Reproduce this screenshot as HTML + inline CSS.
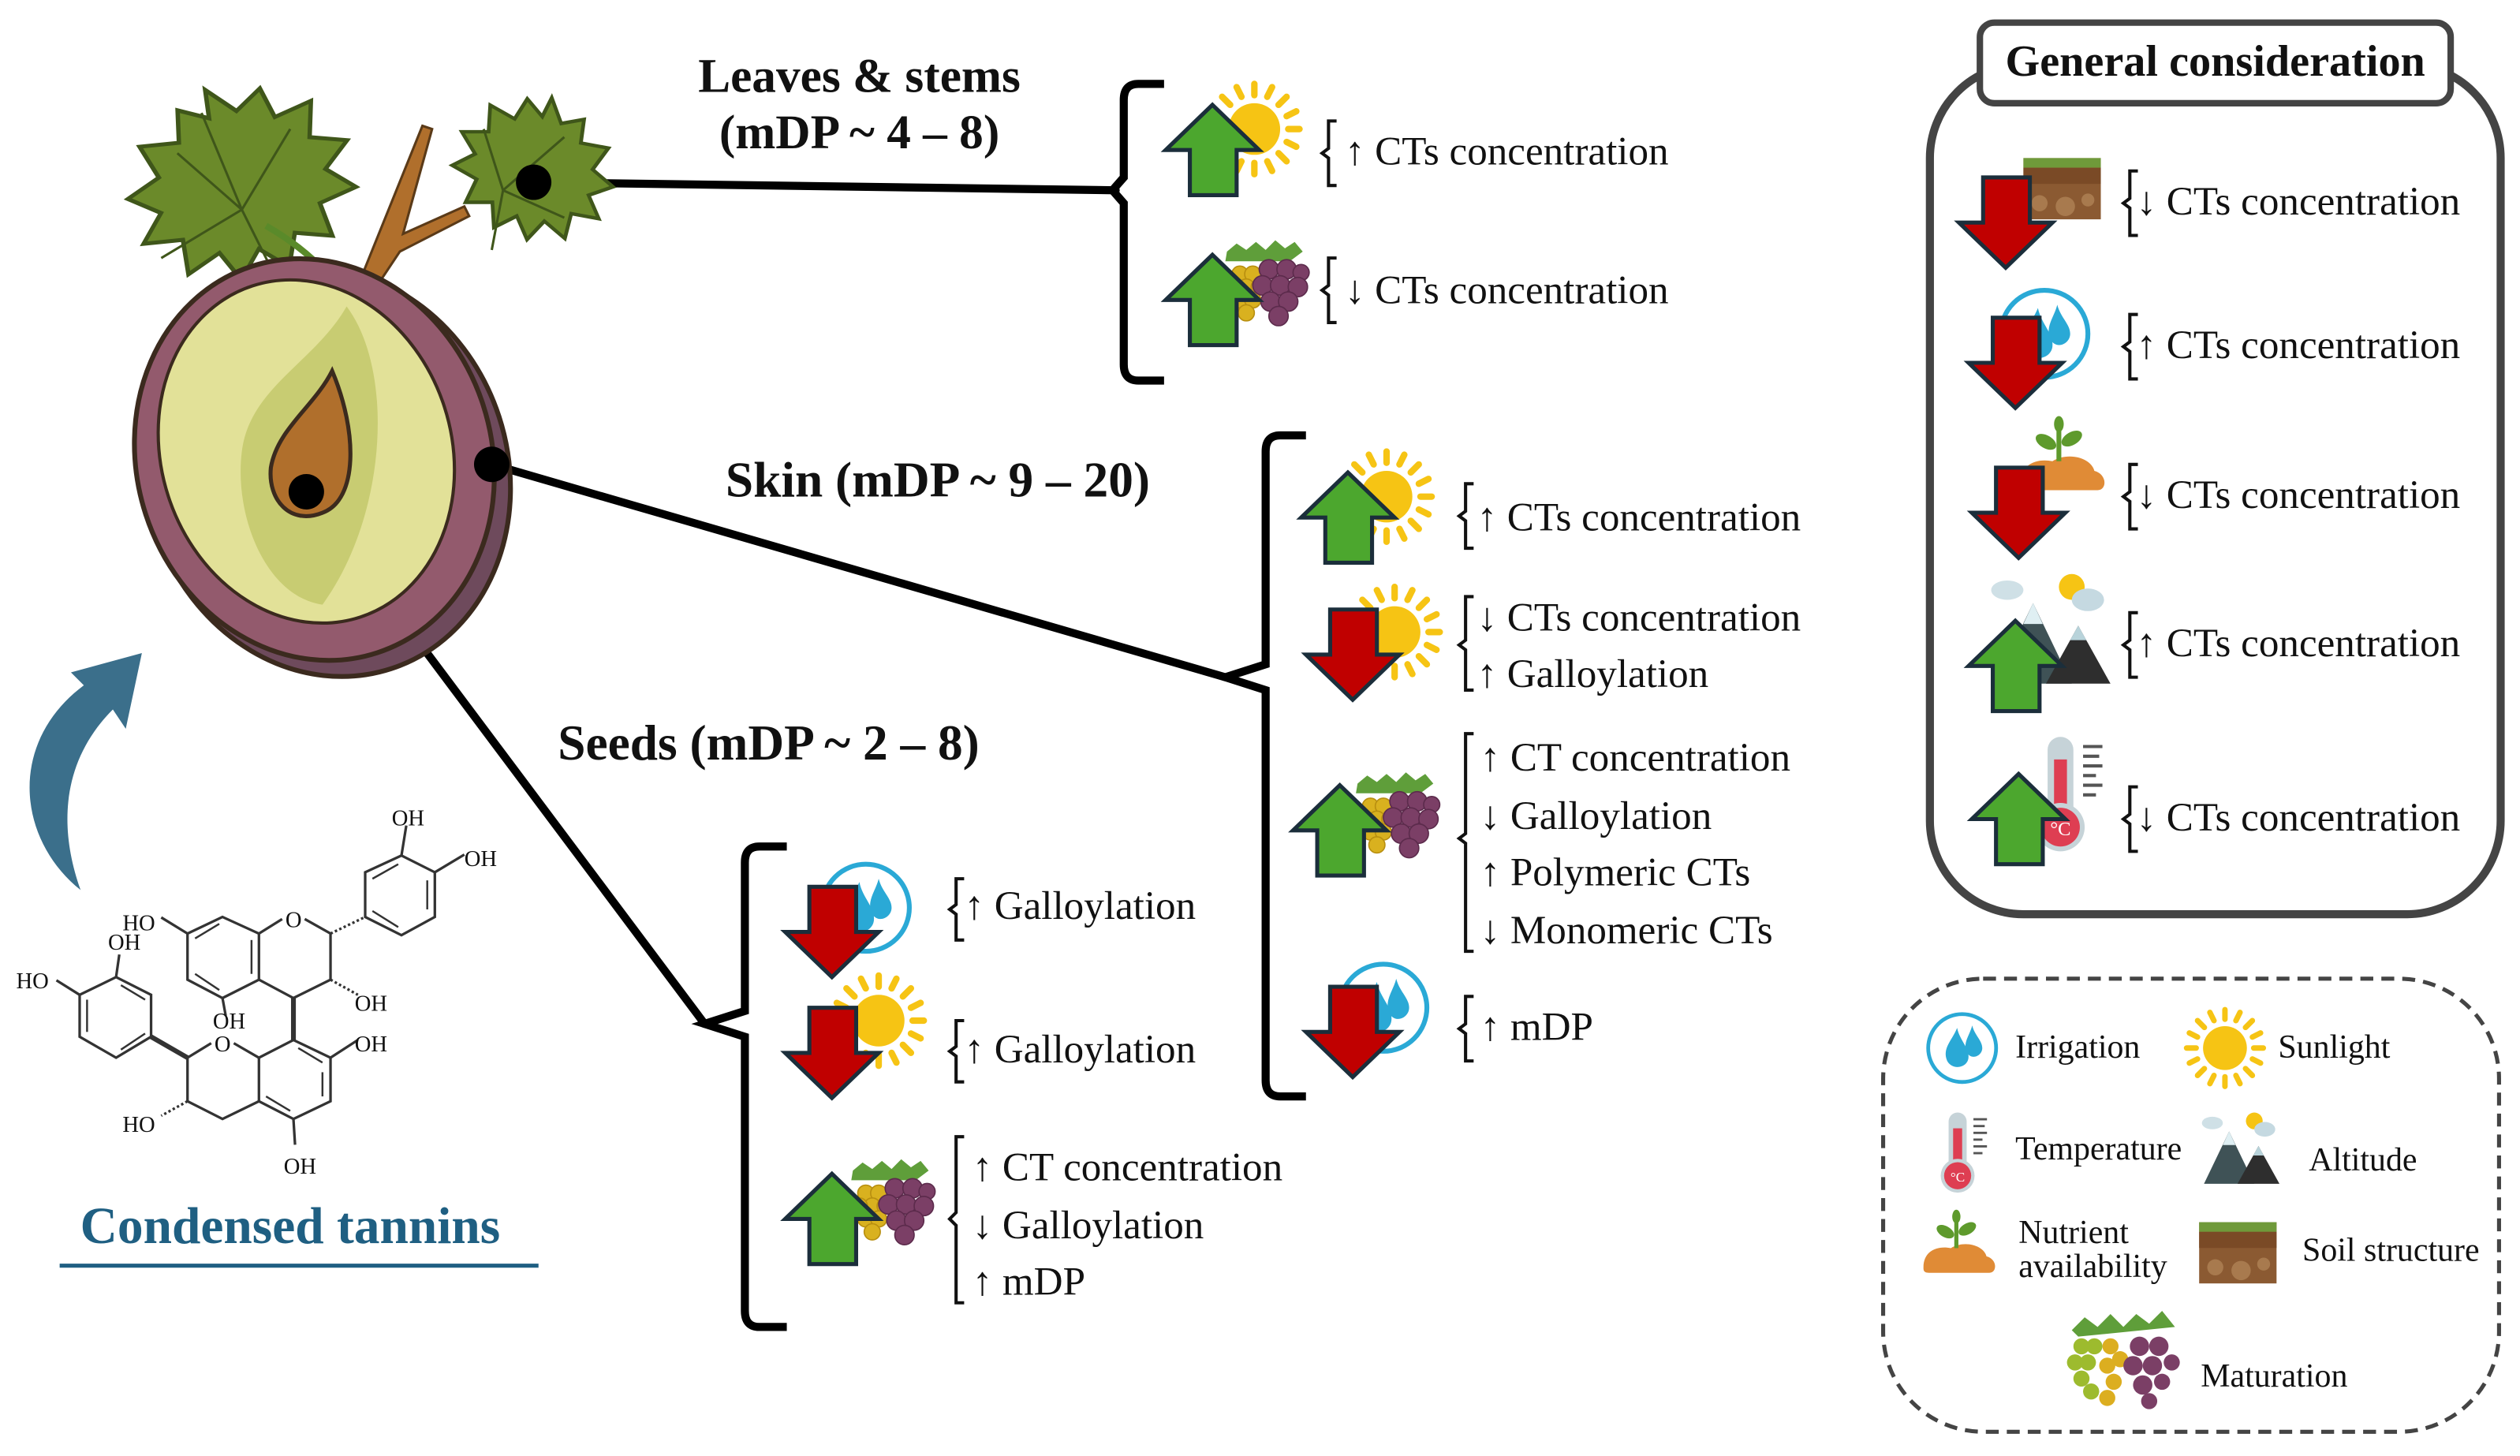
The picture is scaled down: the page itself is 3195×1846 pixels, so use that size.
<!DOCTYPE html>
<html><head><meta charset="utf-8"><style>
html,body{margin:0;padding:0;background:#fff}
svg{display:block}
text{font-family:"Liberation Serif",serif;fill:#111}
.b{font-weight:bold}
.t{font-size:25px}
.l{font-size:20.5px}
</style></head><body>
<svg width="3195" height="1846" viewBox="0 0 1563 903" xmlns="http://www.w3.org/2000/svg">
<defs>
<g id="up"><polygon points="28,0 57,28 43,28 43,56 14,56 14,28 -1,28" fill="#4ca72e" stroke="#1b2e3b" stroke-width="2.5" stroke-linejoin="miter"/></g>
<g id="dn"><polygon points="14,0 43,0 43,28 57,28 28,56 -1,28 14,28" fill="#c00000" stroke="#1b2e3b" stroke-width="2.5"/></g>
<g id="sun"><circle r="16" fill="#f6c414"/>
<g stroke="#f6c414" stroke-width="4" stroke-linecap="round">
<line x1="0" y1="-21" x2="0" y2="-28"/><line x1="0" y1="21" x2="0" y2="28"/><line x1="21" y1="0" x2="28" y2="0"/><line x1="-21" y1="0" x2="-28" y2="0"/>
<line x1="15" y1="-15" x2="20" y2="-20"/><line x1="-15" y1="-15" x2="-20" y2="-20"/><line x1="15" y1="15" x2="20" y2="20"/><line x1="-15" y1="15" x2="-20" y2="20"/>
<line x1="8" y1="-20" x2="11" y2="-26"/><line x1="-8" y1="-20" x2="-11" y2="-26"/><line x1="8" y1="20" x2="11" y2="26"/><line x1="-8" y1="20" x2="-11" y2="26"/>
<line x1="20" y1="-8" x2="26" y2="-11"/><line x1="20" y1="8" x2="26" y2="11"/><line x1="-20" y1="-8" x2="-26" y2="-11"/><line x1="-20" y1="8" x2="-26" y2="11"/></g></g>
<g id="grapes">
<path d="M4,6 l6,-5 6,4 6,-5 6,5 6,-6 6,5 6,-4 5,6 -8,6 -40,0z" fill="#5f9e3a"/>
<g fill="#d9b11f" stroke="#b88f10" stroke-width="0.8"><circle cx="12" cy="20" r="5"/><circle cx="20" cy="20" r="5"/><circle cx="16" cy="28" r="5"/><circle cx="8" cy="28" r="5"/><circle cx="24" cy="28" r="5"/><circle cx="12" cy="36" r="5"/><circle cx="20" cy="36" r="5"/><circle cx="16" cy="44" r="5"/></g>
<g fill="#7b3f66" stroke="#5c2b4c" stroke-width="0.8"><circle cx="30" cy="17" r="6"/><circle cx="41" cy="17" r="6"/><circle cx="50" cy="19" r="5"/><circle cx="26" cy="27" r="6"/><circle cx="37" cy="27" r="6"/><circle cx="48" cy="28" r="6"/><circle cx="31" cy="37" r="6"/><circle cx="42" cy="37" r="6"/><circle cx="36" cy="46" r="6"/></g>
</g>
<g id="irr"><circle r="27" fill="#fff" stroke="#2aa9d6" stroke-width="3"/>
<path d="M-4,-16 C-8,-6 -16,0 -12,10 C-8,18 4,16 5,8 C6,0 -2,-6 -4,-16z" fill="#2aa9d6"/>
<path d="M8,-18 C6,-10 0,-4 4,4 C8,10 16,6 16,0 C16,-6 10,-10 8,-18z" fill="#2aa9d6"/></g>
<g id="soil"><rect x="0" y="8" width="48" height="38" fill="#8b5a32"/><rect x="0" y="8" width="48" height="6" fill="#6f9a3a"/><rect x="0" y="14" width="48" height="10" fill="#7a4a26"/><circle cx="10" cy="36" r="5" fill="#a87a4e"/><circle cx="26" cy="38" r="6" fill="#a87a4e"/><circle cx="40" cy="34" r="4" fill="#a87a4e"/></g>
<g id="nut"><path d="M0,40 C0,28 10,24 20,26 C30,20 44,24 46,32 C54,34 54,44 48,44 L4,44 C0,44 0,42 0,40z" fill="#e08b36"/>
<line x1="24" y1="26" x2="24" y2="4" stroke="#5e9a2c" stroke-width="3"/><ellipse cx="16" cy="14" rx="7" ry="4" fill="#5e9a2c" transform="rotate(30 16 14)"/><ellipse cx="32" cy="12" rx="7" ry="4" fill="#5e9a2c" transform="rotate(-30 32 12)"/><ellipse cx="24" cy="3" rx="3" ry="5" fill="#5e9a2c"/></g>
<g id="alt"><ellipse cx="8" cy="10" rx="10" ry="6" fill="#cfe0e6"/><circle cx="48" cy="8" r="8" fill="#f6c414"/><ellipse cx="58" cy="16" rx="10" ry="7" fill="#c5d9e1"/>
<polygon points="0,68 24,18 48,68" fill="#3f5256"/><polygon points="32,68 52,32 72,68" fill="#2e2e2e"/><polygon points="24,18 18,31 30,31" fill="#dfeff3"/><polygon points="52,32 47,41 57,41" fill="#b8d3da"/></g>
<g id="therm"><rect x="8" y="0" width="16" height="52" rx="8" fill="#c6d3d8"/><rect x="12" y="14" width="8" height="38" fill="#de3e52"/><circle cx="16" cy="56" r="15" fill="#c6d3d8"/><circle cx="16" cy="56" r="12" fill="#de3e52"/><text x="16" y="61" font-size="12" text-anchor="middle" style="fill:#fff">°C</text>
<g stroke="#555" stroke-width="2"><line x1="30" y1="6" x2="42" y2="6"/><line x1="30" y1="12" x2="40" y2="12"/><line x1="30" y1="18" x2="42" y2="18"/><line x1="30" y1="24" x2="38" y2="24"/><line x1="30" y1="30" x2="42" y2="30"/><line x1="30" y1="36" x2="38" y2="36"/></g></g>
<path id="leafshape" d="M0,-70 l14,18 16,-10 4,20 22,-4 -6,22 20,8 -16,14 14,16 -22,4 2,22 -20,-8 -8,20 -14,-16 -14,16 -8,-20 -20,8 2,-22 -22,-4 14,-16 -16,-14 20,-8 -6,-22 22,4 4,-20 16,10z"/>
</defs>

<!-- connector lines -->
<g stroke="#000" stroke-width="5" fill="none" stroke-linecap="round">
<line x1="331" y1="113" x2="692" y2="118"/>
<line x1="305" y1="288" x2="760" y2="420"/>
<line x1="190" y1="305" x2="437" y2="635"/>
<path d="M722,52 H706 Q697,52 697,62 V110 L690,118 L697,126 V226 Q697,236 706,236 H722" stroke-linecap="butt"/>
<path d="M810,270 H794 Q785,270 785,280 V412 L760,420 L785,428 V670 Q785,680 794,680 H810" stroke-linecap="butt"/>
<path d="M488,525 H471 Q462,525 462,535 V627 L437,635 L462,643 V813 Q462,823 471,823 H488" stroke-linecap="butt"/>
</g>

<!-- grape fruit -->
<g>
<use href="#leafshape" transform="translate(145,122) rotate(-15) scale(1.1 0.98)" fill="#6b8a2a" stroke="#3f561a" stroke-width="2.5"/>
<use href="#leafshape" transform="translate(325,108) rotate(20) scale(0.78 0.72)" fill="#6b8a2a" stroke="#3f561a" stroke-width="3"/>
<g stroke="#3f561a" stroke-width="1.5" fill="none"><path d="M150,130 L110,95 M150,130 L125,70 M150,130 L180,80 M150,130 L100,160 M150,130 L175,180"/><path d="M312,118 L300,80 M312,118 L350,85 M312,118 L350,135 M312,118 L305,155"/></g>
<path d="M165,140 Q200,160 218,190" stroke="#5a8a2a" stroke-width="4" fill="none"/>
<path d="M262,78 L268,80 L250,145 L288,128 L291,134 L248,156 L222,195 L216,192 Z" fill="#b06f2c" stroke="#5a3a18" stroke-width="1.5"/>
<ellipse cx="203" cy="293" rx="112" ry="128" transform="rotate(-18 203 293)" fill="#6e4a5c" stroke="#3b2a1e" stroke-width="3"/>
<ellipse cx="195" cy="285" rx="110" ry="126" transform="rotate(-18 195 285)" fill="#935a6d" stroke="#3b2a1e" stroke-width="3"/>
<ellipse cx="190" cy="280" rx="90" ry="108" transform="rotate(-18 190 280)" fill="#e2e198" stroke="#3b2a1e" stroke-width="2"/>
<path d="M215,190 C245,230 240,320 200,375 C165,370 145,320 150,280 C155,240 195,225 215,190z" fill="#c8cc72"/>
<path d="M206,230 C222,268 222,310 200,318 C180,326 166,310 168,290 C172,266 195,252 206,230z" fill="#b06f2c" stroke="#3b2a1e" stroke-width="2.5"/>
</g>
<circle cx="331" cy="113" r="11" fill="#000"/>
<circle cx="305" cy="288" r="11" fill="#000"/>
<circle cx="190" cy="305" r="11" fill="#000"/>

<!-- blue arrow -->
<path d="M50,552 C10,520 5,460 52,425 L44,417 L88,405 L78,452 L70,440 C40,470 35,510 50,552z" fill="#3b6f8b"/>

<!-- chemical structure -->
<g stroke="#333" stroke-width="1.6" fill="none">
<polygon points="249,530.6 269.7,541 269.7,568.7 249,580 226.5,568.7 226.5,541"/>
<line x1="249" y1="530.6" x2="252" y2="512"/><line x1="269.7" y1="541" x2="288" y2="530"/>
<polygon points="138,568.7 160.6,579 160.6,607.6 138,619 116.3,607.6 116.3,579"/>
<line x1="116.3" y1="579" x2="100" y2="569"/><line x1="138" y1="619" x2="140" y2="630"/>
<polyline points="160.6,579 175,570"/><polyline points="189,570 205,579 205,607.6 182,619 160.6,607.6"/>
<line x1="205" y1="579" x2="226.5" y2="568.7" stroke-dasharray="1.5,1.5"/>
<line x1="205" y1="607.6" x2="222" y2="617" stroke-dasharray="1.5,1.5"/>
<line x1="182" y1="619" x2="182" y2="645" stroke-width="3"/>
<polygon points="182,645 205,656 205,683 182,694 160.6,683 160.6,656"/>
<line x1="205" y1="656" x2="222" y2="645"/><line x1="182" y1="694" x2="183" y2="710"/>
<polyline points="160.6,656 145,647"/><polyline points="131,647 116.3,656 116.3,683 138,694 160.6,683"/>
<line x1="116.3" y1="683" x2="100" y2="692" stroke-dasharray="1.5,1.5"/>
<line x1="116.3" y1="656" x2="93.7" y2="643" stroke-width="3"/>
<polygon points="72,606 93.7,617 93.7,643 72,656 49.4,643 49.4,617"/>
<line x1="72" y1="606" x2="74" y2="592"/><line x1="49.4" y1="617" x2="35" y2="608"/>
<g stroke-width="1.2"><line x1="231" y1="545" x2="247" y2="536"/><line x1="265" y1="546" x2="265" y2="564"/><line x1="231" y1="565" x2="247" y2="575"/>
<line x1="121" y1="582" x2="136" y2="573"/><line x1="156" y1="583" x2="156" y2="604"/><line x1="121" y1="604" x2="136" y2="614"/>
<line x1="185" y1="650" x2="200" y2="659"/><line x1="200" y1="665" x2="200" y2="680"/><line x1="165" y1="680" x2="180" y2="689"/>
<line x1="75" y1="611" x2="90" y2="620"/><line x1="54" y1="620" x2="54" y2="640"/><line x1="75" y1="651" x2="90" y2="641"/></g>
</g>
<g font-size="14" style="font-family:'Liberation Sans',sans-serif">
<text x="243" y="512">OH</text><text x="288" y="537">OH</text><text x="76" y="577">HO</text><text x="177" y="575">O</text>
<text x="67" y="589">OH</text><text x="10" y="613">HO</text><text x="132" y="638">OH</text><text x="220" y="627">OH</text>
<text x="220" y="652">OH</text><text x="133" y="652">O</text><text x="76" y="702">HO</text><text x="176" y="728">OH</text>
</g>
<text x="180" y="771" text-anchor="middle" class="b" font-size="32" style="fill:#1f5f82">Condensed tannins</text>
<line x1="37" y1="785" x2="334" y2="785" stroke="#1f5f82" stroke-width="2.5"/>

<!-- labels -->
<text x="533" y="57" text-anchor="middle" class="b" font-size="30">Leaves &amp; stems</text>
<text x="533" y="92" text-anchor="middle" class="b" font-size="30">(mDP ~ 4 – 8)</text>
<text x="450" y="308" class="b" font-size="31">Skin (mDP ~ 9 – 20)</text>
<text x="346" y="471" class="b" font-size="31">Seeds (mDP ~ 2 – 8)</text>

<g stroke="#111" stroke-width="2" fill="none">
<path d="M829,75 H824 V92 L820,95 L824,98 V115 H829"/>
<path d="M829,160 H824 V177 L820,180 L824,183 V200 H829"/>
<path d="M914,300 H909 V317 L905,320 L909,323 V340 H914"/>
<path d="M914,370 H909 V397 L905,400 L909,403 V428 H914"/>
<path d="M914,455 H909 V517 L905,520 L909,523 V590 H914"/>
<path d="M914,618 H909 V635 L905,638 L909,641 V658 H914"/>
<path d="M598,545 H593 V561 L589,564 L593,567 V583 H598"/>
<path d="M598,633 H593 V649 L589,652 L593,655 V671 H598"/>
<path d="M598,705 H593 V752 L589,756 L593,760 V808 H598"/>
<path d="M1326,106 H1321 V123 L1317,126 L1321,129 V146 H1326"/>
<path d="M1326,195 H1321 V212 L1317,215 L1321,218 V235 H1326"/>
<path d="M1326,288 H1321 V305 L1317,308 L1321,311 V328 H1326"/>
<path d="M1326,380 H1321 V397 L1317,400 L1321,403 V420 H1326"/>
<path d="M1326,488 H1321 V505 L1317,508 L1321,511 V528 H1326"/>
</g>

<use href="#sun" x="778" y="80"/><use href="#up" x="724" y="65"/>
<use href="#grapes" x="757" y="150"/><use href="#up" x="724" y="158"/>
<text x="834" y="102" class="t"><tspan class="b">↑</tspan> CTs concentration</text>
<text x="834" y="188" class="t"><tspan class="b">↓</tspan> CTs concentration</text>

<use href="#sun" x="860" y="308"/><use href="#up" x="808" y="293"/>
<use href="#sun" x="865" y="392"/><use href="#dn" x="811" y="378"/>
<use href="#grapes" x="838" y="480"/><use href="#up" x="803" y="487"/>
<use href="#irr" x="858" y="625"/><use href="#dn" x="811" y="612"/>
<text x="916" y="329" class="t"><tspan class="b">↑</tspan> CTs concentration</text>
<text x="916" y="391" class="t"><tspan class="b">↓</tspan> CTs concentration</text>
<text x="916" y="426" class="t"><tspan class="b">↑</tspan> Galloylation</text>
<text x="918" y="478" class="t"><tspan class="b">↑</tspan> CT concentration</text>
<text x="918" y="514" class="t"><tspan class="b">↓</tspan> Galloylation</text>
<text x="918" y="549" class="t"><tspan class="b">↑</tspan> Polymeric CTs</text>
<text x="918" y="585" class="t"><tspan class="b">↓</tspan> Monomeric CTs</text>
<text x="918" y="645" class="t"><tspan class="b">↑</tspan> mDP</text>

<use href="#irr" x="537" y="563"/><use href="#dn" x="488" y="550"/>
<use href="#sun" x="545" y="633"/><use href="#dn" x="488" y="625"/>
<use href="#grapes" x="525" y="720"/><use href="#up" x="488" y="728"/>
<text x="598" y="570" class="t"><tspan class="b">↑</tspan> Galloylation</text>
<text x="598" y="659" class="t"><tspan class="b">↑</tspan> Galloylation</text>
<text x="603" y="732" class="t"><tspan class="b">↑</tspan> CT concentration</text>
<text x="603" y="768" class="t"><tspan class="b">↓</tspan> Galloylation</text>
<text x="603" y="803" class="t"><tspan class="b">↑</tspan> mDP</text>

<rect x="1197" y="40" width="354" height="527" rx="58" fill="none" stroke="#444" stroke-width="5"/>
<rect x="1228" y="14" width="292" height="50" rx="9" fill="#fff" stroke="#444" stroke-width="4"/>
<text x="1374" y="47" text-anchor="middle" class="b" font-size="27.5">General consideration</text>
<use href="#soil" x="1255" y="90"/><use href="#dn" x="1216" y="110"/>
<use href="#irr" x="1268" y="207"/><use href="#dn" x="1222" y="197"/>
<use href="#nut" x="1253" y="260"/><use href="#dn" x="1224" y="290"/>
<use href="#alt" x="1237" y="356"/><use href="#up" x="1222" y="385"/>
<use href="#therm" x="1262" y="457"/><use href="#up" x="1224" y="480"/>
<text x="1325" y="133" class="t"><tspan class="b">↓</tspan> CTs concentration</text>
<text x="1325" y="222" class="t"><tspan class="b">↑</tspan> CTs concentration</text>
<text x="1325" y="315" class="t"><tspan class="b">↓</tspan> CTs concentration</text>
<text x="1325" y="407" class="t"><tspan class="b">↑</tspan> CTs concentration</text>
<text x="1325" y="515" class="t"><tspan class="b">↓</tspan> CTs concentration</text>

<rect x="1168" y="607" width="382" height="281" rx="62" fill="none" stroke="#444" stroke-width="2.5" stroke-dasharray="8,5"/>
<use href="#irr" x="1217" y="650" transform="translate(1217 650) scale(0.78) translate(-1217 -650)"/>
<text x="1250" y="656" class="l">Irrigation</text>
<use href="#sun" x="1380" y="650" transform="translate(1380 650) scale(0.85) translate(-1380 -650)"/>
<text x="1413" y="656" class="l">Sunlight</text>
<use href="#therm" x="1203" y="690" transform="translate(1203 690) scale(0.7) translate(-1203 -690)"/>
<text x="1250" y="719" class="l">Temperature</text>
<use href="#alt" x="1367" y="690" transform="translate(1367 690) scale(0.65) translate(-1367 -690)"/>
<text x="1432" y="726" class="l">Altitude</text>
<use href="#nut" x="1193" y="752" transform="translate(1193 752) scale(0.85) translate(-1193 -752)"/>
<text x="1252" y="771" class="l">Nutrient</text>
<text x="1252" y="792" class="l">availability</text>
<use href="#soil" x="1364" y="750"/>
<text x="1428" y="782" class="l">Soil structure</text>
<g transform="translate(1283 815)">
<path d="M2,10 l8,-8 8,6 8,-8 8,8 8,-8 8,6 8,-8 8,10 -60,6z" fill="#5f9e3a"/>
<g fill="#9dbb2e"><circle cx="8" cy="20" r="5"/><circle cx="16" cy="20" r="5"/><circle cx="4" cy="30" r="5"/><circle cx="12" cy="30" r="5"/><circle cx="8" cy="40" r="5"/><circle cx="14" cy="48" r="5"/></g>
<g fill="#dcae20"><circle cx="26" cy="20" r="5"/><circle cx="32" cy="28" r="5"/><circle cx="24" cy="32" r="5"/><circle cx="28" cy="42" r="5"/><circle cx="24" cy="52" r="5"/></g>
<g fill="#7b3f66"><circle cx="44" cy="20" r="6"/><circle cx="56" cy="20" r="6"/><circle cx="40" cy="32" r="6"/><circle cx="52" cy="32" r="6"/><circle cx="64" cy="30" r="5"/><circle cx="46" cy="44" r="6"/><circle cx="58" cy="42" r="5"/><circle cx="50" cy="54" r="5"/></g>
</g>
<text x="1365" y="860" class="l">Maturation</text>
</svg>
</body></html>
